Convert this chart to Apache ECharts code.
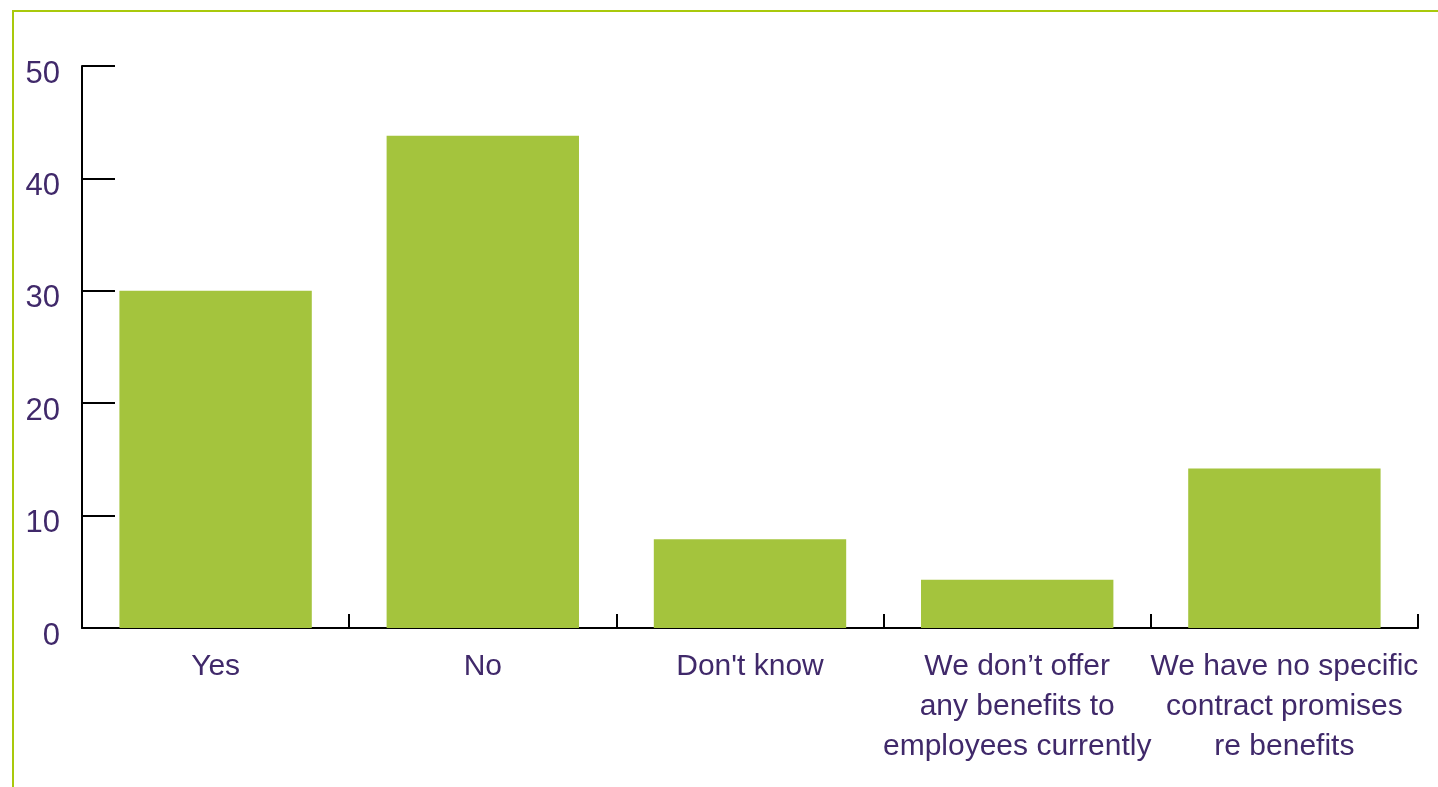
<!DOCTYPE html>
<html>
<head>
<meta charset="utf-8">
<title>Benefits survey</title>
<script src="https://cdn.jsdelivr.net/npm/echarts@6/dist/echarts.min.js"></script>
<style>
  html, body { margin: 0; padding: 0; background: #ffffff; }
  #frame {
    position: absolute; left: 12px; top: 10px; right: 0; bottom: 0;
    border-top: 2px solid #a9c90c; border-left: 2px solid #a9c90c;
  }
  #chart { position: absolute; left: 0; top: 0; width: 1438px; height: 787px; }
</style>
</head>
<body>
<div id="frame"></div>
<div id="chart"></div>
<script>
// Survey answers (percent of respondents)
const categories = [
  'Yes',
  'No',
  "Don't know",
  'We don\u2019t offer\nany benefits to\nemployees currently',
  'We have no specific\ncontract promises\nre benefits'
];
const values = [30, 43.8, 7.9, 4.3, 14.2];
const yTicks = { min: 0, max: 50, interval: 10 };

const textColor = '#40296a';
const fontFamily = '"Liberation Sans", Arial, Helvetica, sans-serif';

const chart = echarts.init(document.getElementById('chart'), null, { renderer: 'canvas' });
chart.setOption({
  animation: false,
  grid: { left: 82, right: 20, top: 66, bottom: 159, containLabel: false },
  xAxis: {
    type: 'category',
    data: categories,
    boundaryGap: true,
    axisLine: { show: true, lineStyle: { color: '#000', width: 2 } },
    axisTick: { show: true, inside: true, length: 14, alignWithLabel: false, lineStyle: { color: '#000', width: 2 } },
    axisLabel: {
      interval: 0, color: textColor, fontSize: 30, fontFamily: fontFamily,
      lineHeight: 40, margin: 19, align: 'center'
    },
    splitLine: { show: false }
  },
  yAxis: {
    type: 'value',
    min: yTicks.min, max: yTicks.max, interval: yTicks.interval,
    axisLine: { show: true, lineStyle: { color: '#000', width: 2 } },
    axisTick: { show: true, inside: true, length: 33, lineStyle: { color: '#000', width: 2 } },
    axisLabel: {
      color: textColor, fontSize: 31, fontFamily: fontFamily,
      margin: 22, verticalAlign: 'top', lineHeight: 16
    },
    splitLine: { show: false }
  },
  series: [{
    type: 'bar',
    data: values,
    barWidth: '72%',
    itemStyle: { color: '#a4c43d' }
  }]
});
</script>
</body>
</html>
